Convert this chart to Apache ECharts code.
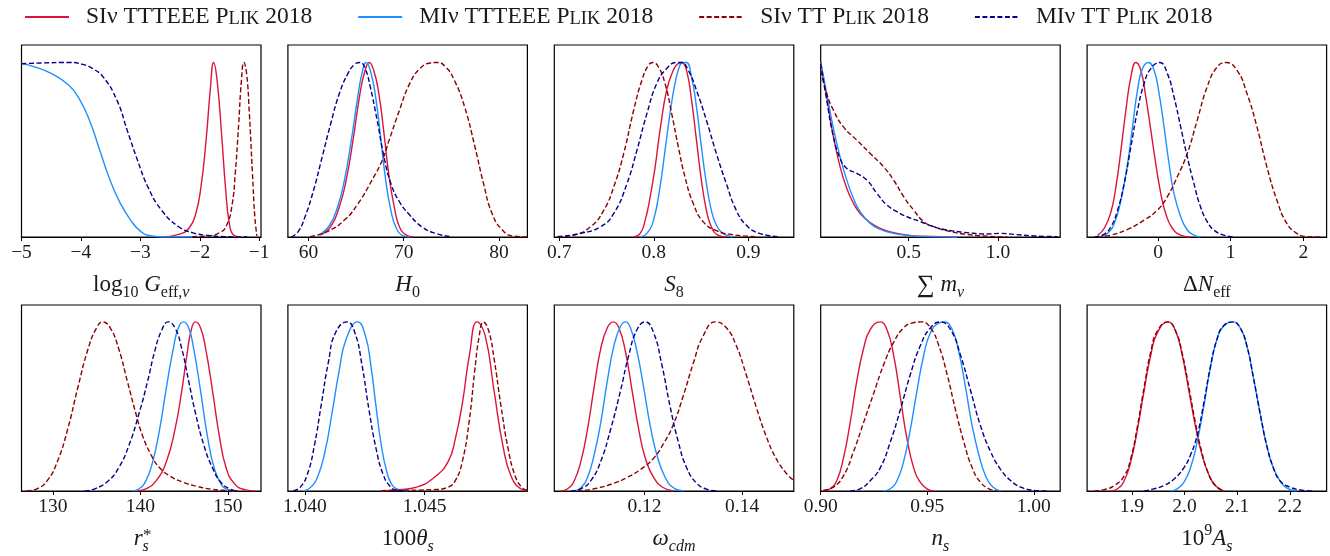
<!DOCTYPE html>
<html>
<head>
<meta charset="UTF-8">
<title>posteriors</title>
<script src="https://cdn.jsdelivr.net/npm/echarts@6/dist/echarts.min.js"></script>
<style>
  html, body { margin: 0; padding: 0; background: #fff; }
  #main { width: 1330px; height: 556px; }
</style>
</head>
<body>
<div id="main"></div>
<script>
// normalised 1D posteriors (peak = 1)
var seriesNames = ['SIν TTTEEE Plik 2018', 'MIν TTTEEE Plik 2018', 'SIν TT Plik 2018', 'MIν TT Plik 2018'];

// log10 G_eff
var G_ticks = [-5, -4, -3, -2, -1];
var G_tickLabels = ['−5', '−4', '−3', '−2', '−1'];
var G_siTE_x = [-2.644, -2.356, -2.182, -2.067, -1.98, -1.894, -1.824, -1.767, -1.709, -1.634, -1.564, -1.503, -1.432, -1.316];
var G_siTE_y = [0, 0.015, 0.05, 0.135, 0.288, 0.555, 0.841, 1.0, 0.898, 0.593, 0.269, 0.078, 0.011, 0];
var G_miTE_x = [-5, -4.781, -4.492, -4.203, -4.030, -3.857, -3.684, -3.510, -3.337, -3.164, -2.991, -2.817, -2.587, -2.125];
var G_miTE_y = [0.995, 0.975, 0.936, 0.869, 0.793, 0.669, 0.498, 0.326, 0.193, 0.097, 0.031, 0.006, 0, 0];
var G_siTT_x = [-2.125, -1.894, -1.663, -1.547, -1.461, -1.403, -1.345, -1.299, -1.258, -1.212, -1.166, -1.114, -1.074, -1.039];
var G_siTT_y = [0.002, 0.006, 0.025, 0.069, 0.174, 0.365, 0.651, 0.898, 1.0, 0.936, 0.707, 0.365, 0.116, 0.006];
var G_miTT_x = [-5, -4.665, -4.203, -3.972, -3.799, -3.626, -3.395, -3.222, -3.048, -2.875, -2.644, -2.356, -2.125, -1.894, -1.548, -1.201];
var G_miTT_y = [0.993, 0.997, 1.0, 0.989, 0.964, 0.917, 0.784, 0.612, 0.440, 0.288, 0.154, 0.059, 0.025, 0.010, 0.002, 0];

// H0
var H0_ticks = [60, 70, 80];
var H0_tickLabels = ['60', '70', '80'];
var H0_siTE_x = [61.26, 62.34, 63.24, 63.96, 64.68, 65.41, 65.95, 66.38, 66.85, 67.39, 67.93, 68.47, 69.01, 69.55, 70.27, 70.99];
var H0_siTE_y = [0.011, 0.059, 0.173, 0.326, 0.555, 0.822, 0.955, 1.0, 0.955, 0.822, 0.593, 0.345, 0.173, 0.059, 0.011, 0];
var H0_miTE_x = [61.08, 62.16, 63.06, 63.78, 64.50, 65.23, 65.69, 66.05, 66.49, 67.03, 67.57, 68.11, 68.65, 69.19, 69.91, 70.63];
var H0_miTE_y = [0.011, 0.063, 0.173, 0.326, 0.555, 0.822, 0.955, 1.0, 0.955, 0.812, 0.574, 0.326, 0.154, 0.055, 0.008, 0];
var H0_siTT_x = [60.18, 61.98, 63.78, 65.23, 66.67, 67.75, 68.47, 69.55, 70.63, 71.71, 72.79, 73.51, 74.41, 75.32, 76.40, 77.48, 78.38, 79.28, 80.36, 81.44, 82.88];
var H0_siTT_y = [0.002, 0.031, 0.097, 0.193, 0.326, 0.44, 0.555, 0.726, 0.879, 0.965, 0.997, 1.0, 0.974, 0.898, 0.745, 0.517, 0.307, 0.135, 0.04, 0.006, 0];
var H0_miTT_x = [58.20, 58.92, 59.64, 60.54, 61.44, 62.34, 63.24, 64.14, 64.86, 65.41, 65.95, 66.49, 67.21, 67.93, 68.65, 69.55, 70.63, 71.89, 73.33, 74.95];
var H0_miTT_y = [0, 0.031, 0.116, 0.269, 0.459, 0.65, 0.822, 0.936, 0.99, 1.0, 0.965, 0.86, 0.669, 0.459, 0.307, 0.202, 0.126, 0.059, 0.021, 0.002];

// S8
var S8_ticks = [0.7, 0.8, 0.9];
var S8_tickLabels = ['0.7', '0.8', '0.9'];
var S8_siTE_x = [0.7787, 0.7857, 0.7909, 0.7962, 0.8014, 0.8066, 0.8136, 0.8206, 0.8248, 0.8294, 0.8346, 0.8399, 0.8451, 0.8503, 0.8556, 0.8608, 0.8678, 0.8766];
var S8_siTE_y = [0, 0.021, 0.097, 0.231, 0.402, 0.612, 0.841, 0.955, 0.99, 1.0, 0.955, 0.784, 0.555, 0.326, 0.154, 0.059, 0.011, 0];
var S8_miTE_x = [0.7857, 0.7927, 0.7997, 0.8066, 0.8119, 0.8171, 0.8224, 0.8276, 0.8311, 0.8346, 0.8399, 0.8451, 0.8503, 0.8556, 0.8608, 0.8661, 0.8731, 0.8836];
var S8_miTE_y = [0, 0.021, 0.097, 0.288, 0.498, 0.707, 0.879, 0.984, 1.0, 1.0, 0.917, 0.745, 0.517, 0.307, 0.154, 0.069, 0.021, 0];
var S8_siTT_x = [0.6983, 0.7157, 0.7332, 0.7472, 0.7577, 0.7682, 0.7787, 0.7874, 0.7944, 0.799, 0.8049, 0.8119, 0.8189, 0.8259, 0.8329, 0.8416, 0.8521, 0.8661, 0.8836, 0.9080];
var S8_siTT_y = [0, 0.011, 0.059, 0.154, 0.288, 0.479, 0.726, 0.898, 0.984, 1.0, 0.974, 0.879, 0.707, 0.517, 0.345, 0.193, 0.088, 0.036, 0.013, 0.002];
var S8_miTT_x = [0.6983, 0.7227, 0.7437, 0.7577, 0.7717, 0.7822, 0.7927, 0.8031, 0.8136, 0.8241, 0.8294, 0.8364, 0.8451, 0.8556, 0.8661, 0.8766, 0.8871, 0.8976, 0.9115, 0.9325];
var S8_miTT_y = [0.002, 0.021, 0.059, 0.135, 0.307, 0.498, 0.707, 0.879, 0.965, 1.0, 1.0, 0.955, 0.841, 0.669, 0.479, 0.307, 0.154, 0.069, 0.021, 0.002];

// sum m_nu
var Mnu_ticks = [0.5, 1.0];
var Mnu_tickLabels = ['0.5', '1.0'];
var Mnu_siTE_x = [0.0075, 0.0412, 0.0787, 0.1161, 0.1536, 0.1910, 0.2285, 0.2846, 0.3408, 0.4157, 0.4906, 0.5843, 0.7715];
var Mnu_siTE_y = [1.0, 0.803, 0.574, 0.402, 0.278, 0.193, 0.135, 0.082, 0.050, 0.025, 0.011, 0.004, 0];
var Mnu_miTE_x = [0.0075, 0.0412, 0.0787, 0.1161, 0.1536, 0.1910, 0.2285, 0.2846, 0.3408, 0.4157, 0.4906, 0.5843, 0.7715];
var Mnu_miTE_y = [1.0, 0.822, 0.622, 0.459, 0.326, 0.221, 0.145, 0.078, 0.044, 0.021, 0.010, 0.002, 0];
var Mnu_siTT_x = [0.0075, 0.0412, 0.0787, 0.1348, 0.2097, 0.2846, 0.3596, 0.4157, 0.4719, 0.5281, 0.5843, 0.6404, 0.7154, 0.8090, 0.9213, 1.0524];
var Mnu_siTT_y = [0.955, 0.822, 0.726, 0.631, 0.555, 0.479, 0.402, 0.326, 0.231, 0.154, 0.088, 0.059, 0.036, 0.017, 0.006, 0];
var Mnu_miTT_x = [0.0075, 0.0412, 0.0787, 0.1161, 0.1536, 0.2097, 0.2659, 0.3221, 0.3783, 0.4345, 0.4906, 0.5655, 0.6404, 0.7154, 0.8277, 0.9401, 1.0150, 1.0899, 1.2022, 1.3333];
var Mnu_miTT_y = [0.993, 0.784, 0.574, 0.450, 0.393, 0.364, 0.326, 0.250, 0.183, 0.145, 0.116, 0.088, 0.059, 0.040, 0.025, 0.017, 0.021, 0.015, 0.006, 0.002];

// Delta N_eff
var Neff_ticks = [0, 1, 2];
var Neff_tickLabels = ['0', '1', '2'];
var Neff_siTE_x = [-0.831, -0.740, -0.648, -0.580, -0.511, -0.443, -0.374, -0.306, -0.237, -0.169, -0.100, -0.032, 0.037, 0.105, 0.196, 0.311, 0.447];
var Neff_siTE_y = [0.011, 0.050, 0.145, 0.288, 0.498, 0.726, 0.917, 1.0, 0.955, 0.803, 0.612, 0.421, 0.250, 0.135, 0.050, 0.011, 0];
var Neff_miTE_x = [-0.785, -0.694, -0.603, -0.511, -0.420, -0.352, -0.283, -0.215, -0.132, -0.055, 0.014, 0.082, 0.151, 0.219, 0.311, 0.402, 0.493, 0.584];
var Neff_miTE_y = [0.002, 0.021, 0.078, 0.212, 0.421, 0.631, 0.841, 0.965, 1.0, 0.955, 0.822, 0.631, 0.421, 0.250, 0.116, 0.040, 0.011, 0];
var Neff_siTT_x = [-0.831, -0.648, -0.420, -0.192, -0.009, 0.128, 0.265, 0.402, 0.539, 0.676, 0.813, 0.936, 1.087, 1.224, 1.361, 1.498, 1.635, 1.772, 1.909, 2.046, 2.228];
var Neff_siTT_y = [0, 0.011, 0.044, 0.097, 0.154, 0.231, 0.345, 0.479, 0.669, 0.860, 0.974, 1.0, 0.955, 0.822, 0.631, 0.402, 0.212, 0.078, 0.021, 0.002, 0];
var Neff_miTT_x = [-0.877, -0.740, -0.648, -0.557, -0.466, -0.374, -0.283, -0.192, -0.100, 0.023, 0.128, 0.219, 0.311, 0.402, 0.493, 0.584, 0.676, 0.767, 0.904, 1.041];
var Neff_miTT_y = [0, 0.017, 0.059, 0.154, 0.307, 0.517, 0.726, 0.879, 0.965, 1.0, 0.936, 0.803, 0.631, 0.459, 0.307, 0.173, 0.088, 0.040, 0.011, 0];

// r_s^*
var Rs_ticks = [130, 140, 150];
var Rs_tickLabels = ['130', '140', '150'];
var Rs_siTE_x = [139.47, 140.64, 141.81, 142.98, 143.96, 144.74, 145.32, 145.83, 146.30, 146.88, 147.47, 148.25, 149.03, 149.81, 150.78, 151.95, 153.12];
var Rs_siTE_y = [0, 0.013, 0.061, 0.175, 0.365, 0.594, 0.803, 0.955, 1.0, 0.965, 0.841, 0.594, 0.327, 0.137, 0.042, 0.008, 0];
var Rs_miTE_x = [139.08, 139.86, 140.64, 141.42, 142.20, 142.98, 143.76, 144.35, 144.93, 145.52, 146.10, 146.88, 147.66, 148.44, 149.22, 150.0, 150.78];
var Rs_miTE_y = [0, 0.013, 0.061, 0.175, 0.365, 0.613, 0.841, 0.965, 1.0, 0.965, 0.841, 0.594, 0.327, 0.137, 0.042, 0.008, 0];
var Rs_siTT_x = [127.0, 128.17, 129.34, 130.51, 131.68, 132.85, 134.02, 134.99, 135.69, 136.55, 137.52, 138.50, 139.47, 140.25, 141.23, 142.20, 143.37, 144.93, 146.49, 148.05, 149.61, 151.17];
var Rs_siTT_y = [0, 0.013, 0.061, 0.175, 0.365, 0.613, 0.841, 0.965, 1.0, 0.965, 0.841, 0.651, 0.461, 0.327, 0.213, 0.137, 0.089, 0.051, 0.027, 0.011, 0.004, 0];
var Rs_miTT_x = [133.63, 134.80, 136.35, 137.52, 138.69, 139.86, 140.84, 141.62, 142.40, 143.18, 143.96, 144.74, 145.52, 146.30, 147.27, 148.25, 149.22, 150.19, 151.17];
var Rs_miTT_y = [0, 0.013, 0.061, 0.137, 0.270, 0.461, 0.651, 0.822, 0.946, 1.0, 0.965, 0.841, 0.651, 0.461, 0.270, 0.137, 0.051, 0.013, 0];

// 100 theta_s
var Th_ticks = [1.040, 1.045];
var Th_tickLabels = ['1.040', '1.045'];
var Th_siTE_x = [1.043191, 1.043926, 1.044662, 1.045397, 1.045985, 1.046279, 1.046574, 1.046868, 1.047191, 1.047529, 1.047897, 1.048265, 1.048632, 1.049074, 1.049294];
var Th_siTE_y = [0, 0.008, 0.023, 0.080, 0.175, 0.308, 0.518, 0.803, 1.0, 0.917, 0.594, 0.270, 0.080, 0.008, 0];
var Th_miTE_x = [1.039956, 1.040250, 1.040544, 1.040838, 1.041132, 1.041426, 1.041721, 1.042206, 1.042529, 1.042750, 1.042971, 1.043191, 1.043412, 1.043632, 1.043926, 1.044294];
var Th_miTE_y = [0, 0.023, 0.089, 0.232, 0.461, 0.708, 0.898, 1.0, 0.917, 0.746, 0.499, 0.270, 0.118, 0.038, 0.008, 0];
var Th_siTT_x = [1.043191, 1.043926, 1.045397, 1.045985, 1.046279, 1.046574, 1.046868, 1.047088, 1.047279, 1.047456, 1.047676, 1.047897, 1.048191, 1.048485, 1.048779, 1.049074, 1.049294];
var Th_siTT_y = [0.002, 0.004, 0.008, 0.023, 0.061, 0.175, 0.422, 0.708, 0.917, 1.0, 0.946, 0.784, 0.499, 0.251, 0.089, 0.019, 0.004];
var Th_miTT_x = [1.039515, 1.039809, 1.040103, 1.040397, 1.040691, 1.040985, 1.041279, 1.041765, 1.042088, 1.042382, 1.042676, 1.042971, 1.043265, 1.043559, 1.043853, 1.044221];
var Th_miTT_y = [0, 0.023, 0.099, 0.270, 0.518, 0.765, 0.936, 1.0, 0.936, 0.746, 0.480, 0.251, 0.099, 0.027, 0.004, 0];

// omega_cdm
var Wc_ticks = [0.12, 0.14];
var Wc_tickLabels = ['0.12', '0.14'];
var Wc_siTE_x = [0.10288, 0.10424, 0.10559, 0.10695, 0.10830, 0.10966, 0.11101, 0.11237, 0.11359, 0.11474, 0.11610, 0.11745, 0.11881, 0.12016, 0.12186, 0.12389, 0.12592];
var Wc_siTE_y = [0, 0.013, 0.061, 0.175, 0.365, 0.613, 0.841, 0.965, 1.0, 0.965, 0.822, 0.594, 0.365, 0.194, 0.080, 0.019, 0];
var Wc_miTE_x = [0.10559, 0.10695, 0.10830, 0.10966, 0.11101, 0.11237, 0.11373, 0.11508, 0.11610, 0.11711, 0.11847, 0.11982, 0.12118, 0.12253, 0.12424, 0.12592, 0.12796];
var Wc_miTE_y = [0, 0.019, 0.080, 0.213, 0.403, 0.651, 0.860, 0.974, 1.0, 0.965, 0.822, 0.613, 0.384, 0.213, 0.080, 0.019, 0];
var Wc_siTT_x = [0.10627, 0.10966, 0.11373, 0.11644, 0.11915, 0.12186, 0.12389, 0.12592, 0.12796, 0.12999, 0.13202, 0.13453, 0.13677, 0.13880, 0.14083, 0.14287, 0.14490, 0.14694, 0.14897, 0.15067];
var Wc_siTT_y = [0, 0.013, 0.046, 0.080, 0.127, 0.194, 0.280, 0.394, 0.565, 0.755, 0.917, 1.0, 0.965, 0.860, 0.689, 0.499, 0.327, 0.194, 0.108, 0.061];
var Wc_miTT_x = [0.10492, 0.10695, 0.10898, 0.11101, 0.11305, 0.11508, 0.11677, 0.11847, 0.12016, 0.12186, 0.12355, 0.12525, 0.12694, 0.12864, 0.13067, 0.13270, 0.13473];
var Wc_miTT_y = [0, 0.013, 0.061, 0.175, 0.365, 0.594, 0.803, 0.955, 1.0, 0.936, 0.746, 0.499, 0.289, 0.137, 0.046, 0.011, 0];

// n_s
var Ns_ticks = [0.90, 0.95, 1.00];
var Ns_tickLabels = ['0.90', '0.95', '1.00'];
var Ns_siTE_x = [0.90126, 0.90440, 0.90753, 0.91067, 0.91381, 0.91695, 0.92009, 0.92323, 0.92794, 0.93108, 0.93422, 0.93736, 0.94050, 0.94364, 0.94678, 0.94992, 0.95306];
var Ns_siTE_y = [0, 0.013, 0.061, 0.194, 0.403, 0.651, 0.841, 0.955, 1.0, 0.955, 0.803, 0.556, 0.308, 0.137, 0.051, 0.013, 0];
var Ns_miTE_x = [0.92951, 0.93265, 0.93579, 0.93893, 0.94207, 0.94521, 0.94835, 0.95149, 0.95542, 0.95809, 0.96169, 0.96483, 0.96797, 0.97111, 0.97425, 0.97739, 0.98053, 0.98446];
var Ns_miTE_y = [0, 0.013, 0.061, 0.175, 0.365, 0.594, 0.803, 0.936, 0.993, 1.0, 0.955, 0.822, 0.613, 0.384, 0.213, 0.089, 0.027, 0];
var Ns_siTT_x = [0.90126, 0.90597, 0.91067, 0.91538, 0.92009, 0.92480, 0.92951, 0.93422, 0.93893, 0.94286, 0.94725, 0.95149, 0.95542, 0.95934, 0.96326, 0.96719, 0.97111, 0.97504, 0.97896, 0.98289];
var Ns_siTT_y = [0.004, 0.023, 0.089, 0.232, 0.403, 0.575, 0.746, 0.879, 0.965, 0.993, 1.0, 0.965, 0.860, 0.689, 0.480, 0.289, 0.137, 0.051, 0.013, 0];
var Ns_miTT_x = [0.91381, 0.91852, 0.92323, 0.92794, 0.93265, 0.93736, 0.94207, 0.94678, 0.95149, 0.95620, 0.96091, 0.96562, 0.97033, 0.97504, 0.97975, 0.98446, 0.98917, 0.99388, 1.00016, 1.00644];
var Ns_miTT_y = [0, 0.013, 0.061, 0.137, 0.289, 0.480, 0.689, 0.860, 0.965, 1.0, 0.955, 0.803, 0.594, 0.384, 0.232, 0.127, 0.061, 0.023, 0.004, 0];

// 10^9 A_s
var As_ticks = [1.9, 2.0, 2.1, 2.2];
var As_tickLabels = ['1.9', '2.0', '2.1', '2.2'];
var As_siTE_x = [1.8603, 1.8729, 1.8855, 1.8981, 1.9107, 1.9233, 1.9359, 1.9485, 1.9686, 1.9831, 1.9957, 2.0083, 2.0208, 2.0334, 2.0460, 2.0586, 2.0744];
var As_siTE_y = [0, 0.013, 0.061, 0.175, 0.365, 0.594, 0.803, 0.936, 1.0, 0.946, 0.803, 0.594, 0.384, 0.213, 0.099, 0.032, 0];
var As_miTE_x = [1.9736, 1.9862, 1.9988, 2.0114, 2.0240, 2.0366, 2.0492, 2.0618, 2.0744, 2.0920, 2.1058, 2.1184, 2.1310, 2.1436, 2.1562, 2.1688, 2.1814, 2.1940, 2.2128];
var As_miTE_y = [0, 0.013, 0.051, 0.137, 0.289, 0.499, 0.727, 0.898, 0.974, 1.0, 0.965, 0.860, 0.670, 0.461, 0.270, 0.137, 0.061, 0.019, 0];
var As_siTT_x = [1.8288, 1.8477, 1.8666, 1.8855, 1.8981, 1.9107, 1.9233, 1.9359, 1.9485, 1.9686, 1.9831, 1.9957, 2.0083, 2.0208, 2.0334, 2.0460, 2.0586, 2.0744];
var As_siTT_y = [0, 0.008, 0.032, 0.089, 0.194, 0.384, 0.613, 0.822, 0.946, 1.0, 0.946, 0.813, 0.613, 0.403, 0.223, 0.099, 0.032, 0];
var As_miTT_x = [1.9233, 1.9422, 1.9610, 1.9799, 1.9988, 2.0114, 2.0240, 2.0366, 2.0492, 2.0618, 2.0744, 2.0920, 2.1058, 2.1184, 2.1310, 2.1436, 2.1562, 2.1688, 2.1814, 2.2003, 2.2254, 2.2443];
var As_miTT_y = [0, 0.013, 0.032, 0.070, 0.137, 0.213, 0.327, 0.518, 0.736, 0.898, 0.978, 1.0, 0.965, 0.860, 0.670, 0.461, 0.270, 0.137, 0.061, 0.023, 0.004, 0];

var FONT = '"Liberation Serif", "DejaVu Serif", serif';
var INK = '#1a1a1a';
var colors = ['#dc143c', '#1e90ff', '#8b0000', '#00008b'];
var dashes = ['solid', 'solid', [5, 2.5], [5, 2.5]];

var panels = [
  { min: -5, max: -0.97, ticks: G_ticks, labels: G_tickLabels,
    name: '{rm|log}{sub|10}{rm| }{it|G}{sub|eff,}{subit|ν}',
    curves: [[G_siTE_x, G_siTE_y], [G_miTE_x, G_miTE_y], [G_siTT_x, G_siTT_y], [G_miTT_x, G_miTT_y]] },
  { min: 57.84, max: 82.99, ticks: H0_ticks, labels: H0_tickLabels,
    name: '{it|H}{sub|0}',
    curves: [[H0_siTE_x, H0_siTE_y], [H0_miTE_x, H0_miTE_y], [H0_siTT_x, H0_siTT_y], [H0_miTT_x, H0_miTT_y]] },
  { min: 0.6948, max: 0.948, ticks: S8_ticks, labels: S8_tickLabels,
    name: '{it|S}{sub|8}',
    curves: [[S8_siTE_x, S8_siTE_y], [S8_miTE_x, S8_miTE_y], [S8_siTT_x, S8_siTT_y], [S8_miTT_x, S8_miTT_y]] },
  { min: 0.0075, max: 1.348, ticks: Mnu_ticks, labels: Mnu_tickLabels,
    name: '{big|∑}{rm| }{it|m}{subit|ν}',
    curves: [[Mnu_siTE_x, Mnu_siTE_y], [Mnu_miTE_x, Mnu_miTE_y], [Mnu_siTT_x, Mnu_siTT_y], [Mnu_miTT_x, Mnu_miTT_y]] },
  { min: -0.977, max: 2.32, ticks: Neff_ticks, labels: Neff_tickLabels,
    name: '{rm|Δ}{it|N}{sub|eff}',
    curves: [[Neff_siTE_x, Neff_siTE_y], [Neff_miTE_x, Neff_miTE_y], [Neff_siTT_x, Neff_siTT_y], [Neff_miTT_x, Neff_miTT_y]] },
  { min: 126.4, max: 153.8, ticks: Rs_ticks, labels: Rs_tickLabels,
    name: '{it|r}{subit|s}',
    curves: [[Rs_siTE_x, Rs_siTE_y], [Rs_miTE_x, Rs_miTE_y], [Rs_siTT_x, Rs_siTT_y], [Rs_miTT_x, Rs_miTT_y]] },
  { min: 1.03929, max: 1.04929, ticks: Th_ticks, labels: Th_tickLabels,
    name: '{rm|100}{it|θ}{subit|s}',
    curves: [[Th_siTE_x, Th_siTE_y], [Th_miTE_x, Th_miTE_y], [Th_siTT_x, Th_siTT_y], [Th_miTT_x, Th_miTT_y]] },
  { min: 0.1015, max: 0.1506, ticks: Wc_ticks, labels: Wc_tickLabels,
    name: '{it|ω}{subit|cdm}',
    curves: [[Wc_siTE_x, Wc_siTE_y], [Wc_miTE_x, Wc_miTE_y], [Wc_siTT_x, Wc_siTT_y], [Wc_miTT_x, Wc_miTT_y]] },
  { min: 0.9, max: 1.0124, ticks: Ns_ticks, labels: Ns_tickLabels,
    name: '{it|n}{subit|s}',
    curves: [[Ns_siTE_x, Ns_siTE_y], [Ns_miTE_x, Ns_miTE_y], [Ns_siTT_x, Ns_siTT_y], [Ns_miTT_x, Ns_miTT_y]] },
  { min: 1.815, max: 2.27, ticks: As_ticks, labels: As_tickLabels,
    name: '{rm|10}{sup|9}{it|A}{subit|s}',
    curves: [[As_siTE_x, As_siTE_y], [As_miTE_x, As_miTE_y], [As_siTT_x, As_siTT_y], [As_miTT_x, As_miTT_y]] }
];

var nameRich = {
  rm: { fontFamily: FONT, fontSize: 23, lineHeight: 32, color: INK },
  it: { fontFamily: FONT, fontSize: 23, lineHeight: 32, fontStyle: 'italic', color: INK },
  big: { fontFamily: FONT, fontSize: 25, lineHeight: 32, color: INK },
  sub: { fontFamily: FONT, fontSize: 16, lineHeight: 16, verticalAlign: 'bottom', color: INK },
  subit: { fontFamily: FONT, fontSize: 16, lineHeight: 16, verticalAlign: 'bottom', fontStyle: 'italic', color: INK },
  sup: { fontFamily: FONT, fontSize: 16, lineHeight: 16, verticalAlign: 'top', color: INK }
};

var grids = [], xAxes = [], yAxes = [], series = [];
panels.forEach(function (p, i) {
  var col = i % 5, row = Math.floor(i / 5);
  grids.push({
    left: 21.5 + col * 266.4, top: 45 + row * 260, width: 239.5, height: 192,
    show: true, borderColor: '#000', borderWidth: 1.2, backgroundColor: 'transparent'
  });
  xAxes.push({
    type: 'value', gridIndex: i, min: p.min, max: p.max,
    axisLine: { show: true, onZero: false, lineStyle: { color: '#000', width: 1.2 } },
    axisTick: { show: true, customValues: p.ticks, length: 4, lineStyle: { color: '#000', width: 1 } },
    axisLabel: {
      customValues: p.ticks, margin: 6, fontFamily: FONT, fontSize: 19.5, color: INK,
      formatter: (function (ticks, labels) {
        return function (v) {
          for (var k = 0; k < ticks.length; k++) {
            if (Math.abs(ticks[k] - v) < 1e-9) return labels[k];
          }
          return '';
        };
      })(p.ticks, p.labels)
    },
    splitLine: { show: false },
    name: p.name, nameLocation: 'middle', nameGap: 32,
    nameTextStyle: { rich: nameRich }
  });
  yAxes.push({ type: 'value', gridIndex: i, min: 0, max: 1.1, show: false, splitLine: { show: false } });
  p.curves.forEach(function (c, j) {
    series.push({
      name: seriesNames[j], type: 'line', xAxisIndex: i, yAxisIndex: i,
      data: c[0].map(function (x, k) { return [x, c[1][k]]; }),
      showSymbol: false, symbol: 'none', smooth: 0.5,
      lineStyle: { color: colors[j], width: 1.4, type: dashes[j] },
      itemStyle: { color: colors[j] },
      z: 2 + j
    });
  });
});

var chart = echarts.init(document.getElementById('main'), null, { renderer: 'canvas' });
chart.setOption({
  animation: false,
  backgroundColor: '#fff',
  legend: {
    top: 0, left: 19, itemWidth: 44, itemHeight: 14, itemGap: 45,
    data: seriesNames,
    itemStyle: { color: 'rgba(0,0,0,0)', borderColor: 'rgba(0,0,0,0)', borderWidth: 0 },
    formatter: function (name) { return name.replace('Plik', 'P{sc|LIK}'); },
    textStyle: {
      fontFamily: FONT, fontSize: 23.5, lineHeight: 23.5, color: INK, padding: [0, 0, 0, 12],
      rich: { sc: { fontFamily: FONT, fontSize: 18.5, lineHeight: 18.5, verticalAlign: 'bottom', color: INK } }
    }
  },
  grid: grids,
  xAxis: xAxes,
  yAxis: yAxes,
  series: series,
  graphic: [
    { type: 'text', left: 143, top: 527, style: { text: '*', fontFamily: FONT, fontSize: 17, fill: INK } }
  ]
});
</script>
</body>
</html>
